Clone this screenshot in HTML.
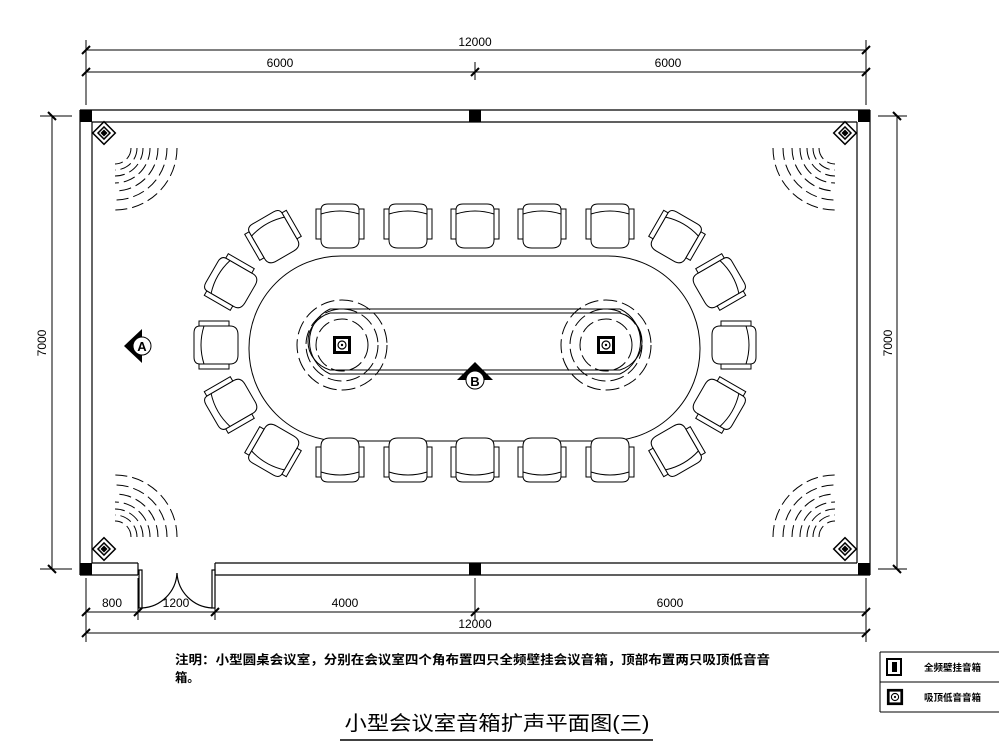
<!DOCTYPE html>
<html><head><meta charset="utf-8"><style>
html,body{margin:0;padding:0;background:#fff;}
svg{display:block;}
text{font-family:"Liberation Sans","Noto Sans CJK SC",sans-serif;}
</style></head><body>
<svg width="999" height="750" viewBox="0 0 999 750" xmlns="http://www.w3.org/2000/svg">
<defs>
  <g id="chair" fill="#fff" stroke="#000" stroke-width="1">
    <path d="M-19,-16 Q-19,-22 -12,-22 L12,-22 Q19,-22 19,-16 L19,14 Q19,22 10,22 L-10,22 Q-19,22 -19,14 Z"/>
    <path d="M-19,-12 Q0,-18 19,-12" fill="none"/>
    <rect x="-24" y="-17" width="5" height="30"/>
    <rect x="19" y="-17" width="5" height="30"/>
  </g>
  <g id="wspk">
    <rect x="-8" y="-8" width="16" height="16" fill="#fff" stroke="#000" stroke-width="1.5"/>
    <rect x="-5" y="-5" width="10" height="10" fill="#000"/>
    <rect x="-3" y="-3" width="6" height="6" fill="none" stroke="#fff" stroke-width="1"/>
  </g>
  <g id="arcs" fill="none" stroke="#000" stroke-width="1" stroke-dasharray="12,5">
    <path d="M16,0 A16,16 0 0 1 0,16"/>
    <path d="M22,0 A22,22 0 0 1 0,22"/>
    <path d="M28,0 A28,28 0 0 1 0,28"/>
    <path d="M35,0 A35,35 0 0 1 0,35"/>
    <path d="M43,0 A43,43 0 0 1 0,43"/>
    <path d="M52,0 A52,52 0 0 1 0,52"/>
    <path d="M62,0 A62,62 0 0 1 0,62"/>
  </g>
  <g id="cspk">
    <rect x="-9" y="-9" width="18" height="18" fill="#000"/>
    <rect x="-6" y="-6" width="12" height="12" fill="#fff"/>
    <circle r="4" fill="none" stroke="#000" stroke-width="1.2"/>
    <circle r="1.2" fill="#000"/>
  </g>
  <g id="tick"><line x1="-4" y1="4" x2="4" y2="-4" stroke="#000" stroke-width="2"/></g>
</defs>

<g stroke="#000" stroke-width="1" fill="none">
  <line x1="86" y1="50" x2="866" y2="50"/>
  <line x1="86" y1="72" x2="866" y2="72"/>
  <line x1="86" y1="40" x2="86" y2="105"/>
  <line x1="866" y1="40" x2="866" y2="105"/>
  <line x1="475" y1="62" x2="475" y2="80"/>
  <line x1="86" y1="612" x2="866" y2="612"/>
  <line x1="86" y1="633" x2="866" y2="633"/>
  <line x1="86" y1="578" x2="86" y2="642"/>
  <line x1="866" y1="578" x2="866" y2="642"/>
  <line x1="138" y1="578" x2="138" y2="620"/>
  <line x1="215" y1="578" x2="215" y2="620"/>
  <line x1="475" y1="578" x2="475" y2="620"/>
  <line x1="52" y1="116" x2="52" y2="569"/>
  <line x1="40" y1="116" x2="72" y2="116"/>
  <line x1="40" y1="569" x2="72" y2="569"/>
  <line x1="897" y1="116" x2="897" y2="569"/>
  <line x1="878" y1="116" x2="907" y2="116"/>
  <line x1="878" y1="569" x2="907" y2="569"/>
</g>
<use href="#tick" x="86" y="50"/><use href="#tick" x="866" y="50"/>
<use href="#tick" x="86" y="72"/><use href="#tick" x="866" y="72"/><use href="#tick" x="475" y="72"/>
<use href="#tick" x="86" y="612"/><use href="#tick" x="138" y="612"/><use href="#tick" x="215" y="612"/><use href="#tick" x="475" y="612"/><use href="#tick" x="866" y="612"/>
<use href="#tick" x="86" y="633"/><use href="#tick" x="866" y="633"/>
<g transform="translate(52,116) rotate(90)"><use href="#tick"/></g>
<g transform="translate(52,569) rotate(90)"><use href="#tick"/></g>
<g transform="translate(897,116) rotate(90)"><use href="#tick"/></g>
<g transform="translate(897,569) rotate(90)"><use href="#tick"/></g>

<g font-size="12" text-anchor="middle" fill="#000">
  <text x="475" y="46">12000</text>
  <text x="280" y="67">6000</text>
  <text x="668" y="67">6000</text>
  <text x="112" y="607">800</text>
  <text x="176" y="607">1200</text>
  <text x="345" y="607">4000</text>
  <text x="670" y="607">6000</text>
  <text x="475" y="628">12000</text>
  <text transform="translate(46,343) rotate(-90)">7000</text>
  <text transform="translate(892,343) rotate(-90)">7000</text>
</g>

<g stroke="#000" stroke-width="1.2" fill="none">
  <line x1="80" y1="110" x2="870" y2="110"/>
  <line x1="92" y1="122" x2="857" y2="122"/>
  <line x1="80" y1="110" x2="80" y2="575"/>
  <line x1="92" y1="122" x2="92" y2="563"/>
  <line x1="870" y1="110" x2="870" y2="575"/>
  <line x1="857" y1="122" x2="857" y2="563"/>
  <line x1="80" y1="575" x2="138" y2="575"/>
  <line x1="92" y1="563" x2="138" y2="563"/>
  <line x1="138" y1="563" x2="138" y2="575"/>
  <line x1="215" y1="563" x2="857" y2="563"/>
  <line x1="215" y1="575" x2="870" y2="575"/>
  <line x1="215" y1="563" x2="215" y2="575"/>
  <rect x="139" y="570" width="3" height="38" fill="#fff"/>
  <rect x="212" y="570" width="3" height="38" fill="#fff"/>
  <path d="M142,608 A37,37 0 0 0 177,573"/>
  <path d="M212,608 A37,37 0 0 1 177,573"/>
</g>
<g fill="#000">
  <rect x="80" y="110" width="12" height="12"/>
  <rect x="858" y="110" width="12" height="12"/>
  <rect x="469" y="110" width="12" height="12"/>
  <rect x="80" y="563" width="12" height="12"/>
  <rect x="858" y="563" width="12" height="12"/>
  <rect x="469" y="563" width="12" height="12"/>
</g>

<g transform="translate(115,148)"><use href="#arcs"/></g>
<g transform="translate(835,148) scale(-1,1)"><use href="#arcs"/></g>
<g transform="translate(115,537) scale(1,-1)"><use href="#arcs"/></g>
<g transform="translate(835,537) scale(-1,-1)"><use href="#arcs"/></g>
<g transform="translate(104,133) rotate(45)"><use href="#wspk"/></g>
<g transform="translate(845,133) rotate(-45)"><use href="#wspk"/></g>
<g transform="translate(104,549) rotate(-45)"><use href="#wspk"/></g>
<g transform="translate(845,549) rotate(45)"><use href="#wspk"/></g>

<rect x="249" y="256" width="451" height="185" rx="92" ry="92" fill="none" stroke="#000" stroke-width="1"/>
<g stroke="#000" stroke-width="1" fill="none">
  <line x1="330" y1="309" x2="620" y2="309"/>
  <line x1="330" y1="313" x2="620" y2="313"/>
  <line x1="330" y1="370" x2="620" y2="370"/>
  <line x1="330" y1="374" x2="620" y2="374"/>
  <path d="M330,309 A36,36 0 0 0 330,374"/>
  <path d="M330,313 A32,30 0 0 0 330,370"/>
  <path d="M620,309 A36,36 0 0 1 620,374"/>
  <path d="M620,313 A32,30 0 0 1 620,370"/>
</g>
<g fill="none" stroke="#000" stroke-width="1" stroke-dasharray="14,5">
  <circle cx="342" cy="345" r="26"/>
  <circle cx="342" cy="345" r="36"/>
  <circle cx="342" cy="345" r="45"/>
  <circle cx="606" cy="345" r="26"/>
  <circle cx="606" cy="345" r="36"/>
  <circle cx="606" cy="345" r="45"/>
</g>
<use href="#cspk" x="342" y="345"/>
<use href="#cspk" x="606" y="345"/>

<use href="#chair" x="340" y="226"/>
<use href="#chair" x="408" y="226"/>
<use href="#chair" x="475" y="226"/>
<use href="#chair" x="542" y="226"/>
<use href="#chair" x="610" y="226"/>
<g transform="translate(340,460) rotate(180)"><use href="#chair"/></g>
<g transform="translate(408,460) rotate(180)"><use href="#chair"/></g>
<g transform="translate(475,460) rotate(180)"><use href="#chair"/></g>
<g transform="translate(542,460) rotate(180)"><use href="#chair"/></g>
<g transform="translate(610,460) rotate(180)"><use href="#chair"/></g>
<g transform="translate(216,345) rotate(-90)"><use href="#chair"/></g>
<g transform="translate(734,345) rotate(90)"><use href="#chair"/></g>
<g transform="translate(274,237) rotate(-30)"><use href="#chair"/></g>
<g transform="translate(231,283) rotate(-60)"><use href="#chair"/></g>
<g transform="translate(231,404) rotate(-120)"><use href="#chair"/></g>
<g transform="translate(274,450) rotate(-150)"><use href="#chair"/></g>
<g transform="translate(676,237) rotate(30)"><use href="#chair"/></g>
<g transform="translate(719,283) rotate(60)"><use href="#chair"/></g>
<g transform="translate(719,404) rotate(120)"><use href="#chair"/></g>
<g transform="translate(676,450) rotate(150)"><use href="#chair"/></g>

<path d="M124,346 L142,329 L142,363 Z" fill="#000"/>
<circle cx="142" cy="346" r="9" fill="#fff" stroke="#000"/>
<text x="142" y="351" font-size="13" font-weight="bold" text-anchor="middle" font-family="Liberation Serif">A</text>
<path d="M457,380 L475,362 L493,380 Z" fill="#000"/>
<circle cx="475" cy="380" r="9" fill="#fff" stroke="#000"/>
<text x="475" y="386" font-size="13" font-weight="bold" text-anchor="middle" font-family="Liberation Serif">B</text>

<text x="175" y="664" font-size="12.3" font-weight="bold" textLength="595" lengthAdjust="spacingAndGlyphs">注明：小型圆桌会议室，分别在会议室四个角布置四只全频壁挂会议音箱，顶部布置两只吸顶低音音</text>
<text x="175" y="682" font-size="12.3" font-weight="bold">箱。</text>

<g stroke="#000" stroke-width="1" fill="none">
  <line x1="880" y1="652" x2="999" y2="652"/>
  <line x1="880" y1="682" x2="999" y2="682"/>
  <line x1="880" y1="712" x2="999" y2="712"/>
  <line x1="880" y1="652" x2="880" y2="712"/>
</g>
<rect x="887" y="659" width="14" height="16" fill="#fff" stroke="#000" stroke-width="2"/>
<rect x="892" y="662" width="5" height="10" fill="#000"/>
<g transform="translate(895,697) scale(0.9)"><use href="#cspk"/></g>
<text x="924" y="671" font-size="9.5" font-weight="bold">全频壁挂音箱</text>
<text x="924" y="701" font-size="9.5" font-weight="bold">吸顶低音音箱</text>

<text x="497" y="730" font-size="20" text-anchor="middle" textLength="305" lengthAdjust="spacingAndGlyphs">小型会议室音箱扩声平面图(三)</text>
<line x1="340" y1="740" x2="653" y2="740" stroke="#000" stroke-width="1.5"/>
</svg>
</body></html>
